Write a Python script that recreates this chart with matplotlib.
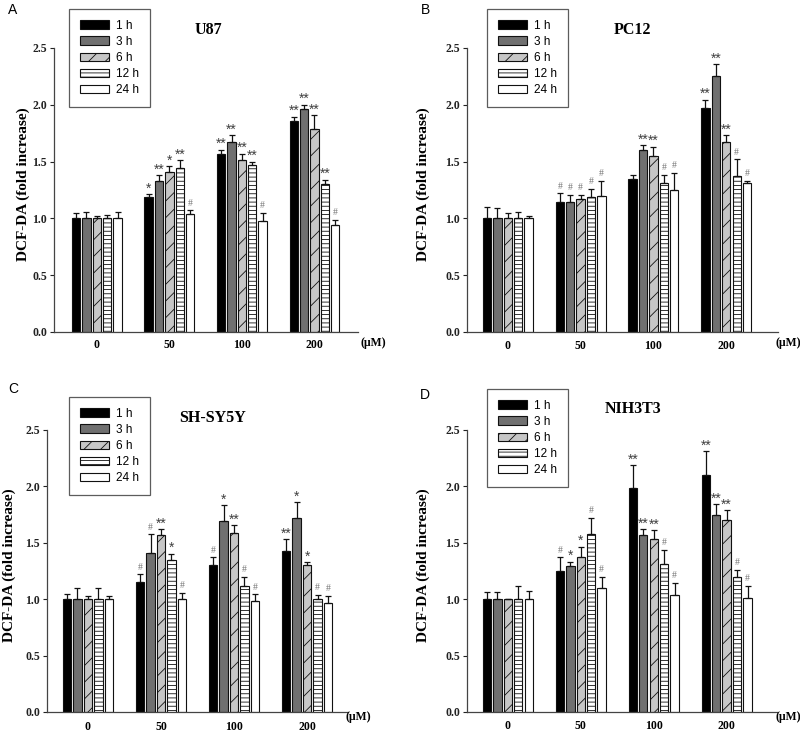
import matplotlib
matplotlib.use("Agg")
import matplotlib.pyplot as plt
import numpy as np

# --- data (fold increase, rows = time point, columns = dose) ---
doses = ["0", "50", "100", "200"]
times = ["1 h", "3 h", "6 h", "12 h", "24 h"]

u87_mean = [[1.00, 1.19, 1.57, 1.86],
            [1.00, 1.33, 1.67, 1.96],
            [1.00, 1.41, 1.51, 1.79],
            [1.00, 1.44, 1.47, 1.30],
            [1.00, 1.04, 0.98, 0.94]]
u87_err = [[0.05, 0.025, 0.035, 0.036],
           [0.06, 0.05, 0.06, 0.04],
           [0.02, 0.05, 0.06, 0.12],
           [0.03, 0.07, 0.03, 0.04],
           [0.06, 0.03, 0.07, 0.05]]
u87_sig = [["", "*", "**", "**"],
           ["", "**", "**", "**"],
           ["", "*", "**", "**"],
           ["", "**", "**", "**"],
           ["", "#", "#", "#"]]

pc12_mean = [[1.00, 1.14, 1.35, 1.97],
             [1.00, 1.14, 1.60, 2.25],
             [1.00, 1.17, 1.55, 1.67],
             [1.00, 1.19, 1.31, 1.37],
             [1.00, 1.20, 1.25, 1.31]]
pc12_err = [[0.10, 0.08, 0.03, 0.076],
            [0.09, 0.07, 0.045, 0.11],
            [0.05, 0.04, 0.08, 0.065],
            [0.06, 0.07, 0.07, 0.15],
            [0.025, 0.13, 0.15, 0.02]]
pc12_sig = [["", "#", "", "**"],
            ["", "#", "**", "**"],
            ["", "#", "**", "**"],
            ["", "#", "#", "#"],
            ["", "#", "#", "#"]]

shsy5y_mean = [[1.00, 1.15, 1.30, 1.43],
               [1.00, 1.41, 1.69, 1.72],
               [1.00, 1.57, 1.59, 1.30],
               [1.00, 1.35, 1.12, 1.00],
               [1.00, 1.00, 0.98, 0.965]]
shsy5y_err = [[0.045, 0.07, 0.07, 0.10],
              [0.10, 0.165, 0.145, 0.14],
              [0.025, 0.05, 0.065, 0.03],
              [0.10, 0.053, 0.077, 0.04],
              [0.03, 0.054, 0.062, 0.062]]
shsy5y_sig = [["", "#", "#", "**"],
              ["", "#", "*", "*"],
              ["", "**", "**", "*"],
              ["", "*", "#", "#"],
              ["", "#", "#", "#"]]

nih3t3_mean = [[1.00, 1.25, 1.99, 2.10],
               [1.00, 1.29, 1.57, 1.75],
               [1.00, 1.37, 1.53, 1.70],
               [1.00, 1.58, 1.31, 1.20],
               [1.00, 1.10, 1.04, 1.01]]
nih3t3_err = [[0.06, 0.12, 0.20, 0.21],
              [0.06, 0.044, 0.05, 0.094],
              [0.005, 0.095, 0.08, 0.088],
              [0.12, 0.14, 0.13, 0.058],
              [0.07, 0.10, 0.106, 0.11]]
nih3t3_sig = [["", "#", "**", "**"],
              ["", "*", "**", "**"],
              ["", "*", "**", "**"],
              ["", "#", "#", "#"],
              ["", "#", "#", "#"]]

# --- style ---
faces = ["#000000", "#707070", "#c6c6c6", "#ffffff", "#ffffff"]
hatches = [None, None, "//", "----", None]
SERIF = "Liberation Serif"
SANS = "Liberation Sans"
W, H = 800, 733
plt.rcParams["hatch.linewidth"] = 0.6

fig = plt.figure(figsize=(W / 100, H / 100), dpi=100)

# panel layout in pixels: axes box (left, top, right, bottom), xlim, extra positions
panels = [
    dict(letter="A", title="U87", mean=u87_mean, err=u87_err, sig=u87_sig,
         box=(54, 48, 358, 332), xlim=(-0.59, 3.6), letter_xy=(13, 10),
         title_xy=(208, 30), leg_xy=(69, 9), ylab_x=23, um_xy=(373, 343), tick_y=345),
    dict(letter="B", title="PC12", mean=pc12_mean, err=pc12_err, sig=pc12_sig,
         box=(467, 48, 778, 332), xlim=(-0.56, 3.71), letter_xy=(425, 10),
         title_xy=(632, 30), leg_xy=(487, 9), ylab_x=423, um_xy=(788, 343), tick_y=346),
    dict(letter="C", title="SH-SY5Y", mean=shsy5y_mean, err=shsy5y_err, sig=shsy5y_sig,
         box=(47, 430, 348, 712), xlim=(-0.56, 3.56), letter_xy=(13, 389),
         title_xy=(213, 418), leg_xy=(69, 397), ylab_x=9, um_xy=(358, 717), tick_y=727),
    dict(letter="D", title="NIH3T3", mean=nih3t3_mean, err=nih3t3_err, sig=nih3t3_sig,
         box=(467, 430, 777, 712), xlim=(-0.56, 3.69), letter_xy=(425, 395),
         title_xy=(633, 409), leg_xy=(487, 389), ylab_x=423, um_xy=(788, 717), tick_y=726),
]


def fx(px):
    return px / W


def fy(py):
    return 1 - py / H


width = 0.115
step = 0.143
x = np.arange(len(doses))

for p in panels:
    l, t, r, b = p["box"]
    ax = fig.add_axes([fx(l), fy(b), (r - l) / W, (b - t) / H])
    handles = []
    for i, lab in enumerate(times):
        xi = x + (i - 2) * step
        mean = np.array(p["mean"][i])
        err = np.array(p["err"][i])
        bars = ax.bar(xi, mean, width, color=faces[i], edgecolor="#111111",
                      linewidth=0.8, hatch=hatches[i], label=lab, zorder=2)
        ax.errorbar(xi, mean, yerr=[np.zeros_like(err), err], fmt="none",
                    ecolor="#111111", elinewidth=0.9, capsize=2.5, capthick=0.9, zorder=3)
        handles.append(bars)
        for xx, top, s in zip(xi, mean + err, p["sig"][i]):
            if not s:
                continue
            if s == "#":
                ax.annotate(s, (xx, top), xytext=(0, 2), textcoords="offset points",
                            ha="center", va="bottom", fontsize=7, color="#777777",
                            family=SERIF)
            else:
                ax.annotate(s, (xx, top), xytext=(0, -1), textcoords="offset points",
                            ha="center", va="bottom", fontsize=10, color="#404040",
                            family=SANS)

    ax.set_xlim(*p["xlim"])
    ax.set_ylim(0, 2.5)
    ax.set_yticks([0, 0.5, 1.0, 1.5, 2.0, 2.5])
    ax.set_yticklabels(["0.0", "0.5", "1.0", "1.5", "2.0", "2.5"],
                       family=SERIF, fontweight="bold", fontsize=8.5)
    ax.set_xticks([])
    ax.tick_params(axis="y", direction="out", length=3, width=0.8, pad=2, colors="#222222")
    for side in ("top", "right"):
        ax.spines[side].set_visible(False)
    for side in ("left", "bottom"):
        ax.spines[side].set_color("#444444")
        ax.spines[side].set_linewidth(0.9)

    # dose labels under the axis
    for xx, d in zip(x, doses):
        xpix = l + (xx - p["xlim"][0]) / (p["xlim"][1] - p["xlim"][0]) * (r - l)
        fig.text(fx(xpix), fy(p["tick_y"]), d, ha="center", va="center",
                 family=SERIF, fontweight="bold", fontsize=8.5)
    fig.text(fx(p["um_xy"][0]), fy(p["um_xy"][1]), "(\u03bcM)", ha="center", va="center",
             family=SERIF, fontweight="bold", fontsize=8.5)

    fig.text(fx(p["ylab_x"]), fy((t + b) / 2 - 6), "DCF-DA (fold increase)", rotation=90,
             ha="center", va="center", family=SERIF, fontweight="bold", fontsize=11)
    fig.text(fx(p["title_xy"][0]), fy(p["title_xy"][1]), p["title"], ha="center", va="center",
             family=SERIF, fontweight="bold", fontsize=11.5)
    fig.text(fx(p["letter_xy"][0]), fy(p["letter_xy"][1]), p["letter"], ha="center",
             va="center", family=SANS, fontsize=10)

    leg = ax.legend(handles=handles, loc="upper left",
                    bbox_to_anchor=(fx(p["leg_xy"][0]), fy(p["leg_xy"][1])),
                    bbox_transform=fig.transFigure, prop={"family": SANS, "size": 8.5},
                    frameon=True, fancybox=False, edgecolor="#333333",
                    handlelength=2.5, handleheight=0.7, labelspacing=0.35,
                    handletextpad=0.6, borderpad=0.9, borderaxespad=0)
    leg.get_frame().set_linewidth(0.9)

plt.savefig("out.png", dpi=100)
